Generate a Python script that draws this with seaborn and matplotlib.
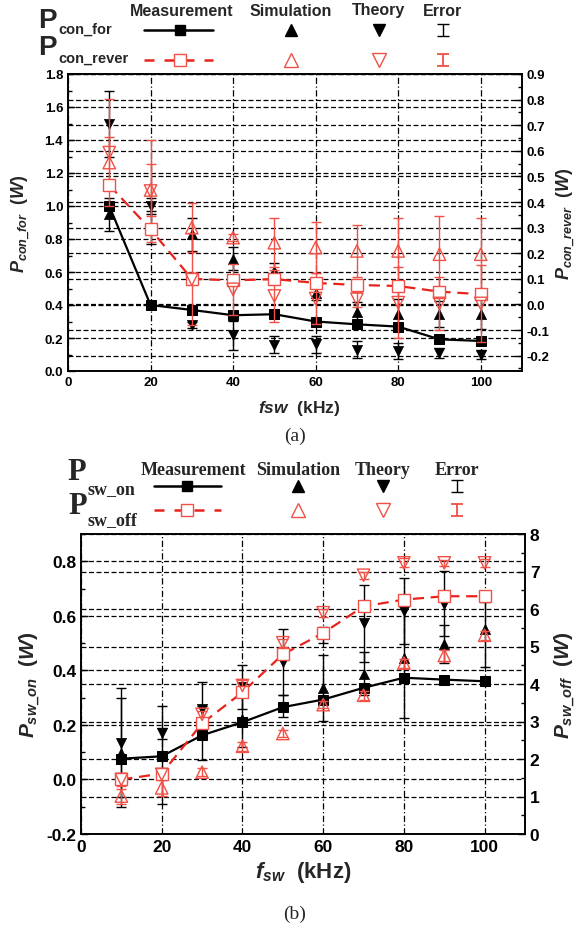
import numpy as np
import pandas as pd
import matplotlib
matplotlib.use("Agg")
import matplotlib.pyplot as plt
import seaborn as sns
from matplotlib.ticker import MultipleLocator, FormatStrFormatter

# ---------------- data ----------------
freq = [10, 20, 30, 40, 50, 60, 70, 80, 90, 100]

# panel (a) conduction loss, forward (left axis)
a_meas_for = [1.00, 0.40, 0.37, 0.338, 0.344, 0.30, 0.283, 0.269, 0.192, 0.182]
a_sim_for = [0.95, 0.87, 0.83, 0.68, 0.607, 0.47, 0.357, 0.345, 0.345, 0.345]
a_theo_for = [1.50, 1.00, 0.28, 0.216, 0.16, 0.162, 0.13, 0.12, 0.107, 0.10]
a_sim_for_err = [0.10, 0.10, 0.10, 0.07, 0.05, 0.04, 0.06, 0.09, 0.08, 0.09]
a_theo_for_err = [0.20, 0.05, 0.02, 0.09, 0.05, 0.05, 0.05, 0.05, 0.03, 0.03]
# panel (a) conduction loss, reverse (right axis)
a_meas_rev = [0.466, 0.293, 0.10, 0.094, 0.099, 0.084, 0.076, 0.072, 0.05, 0.04]
a_sim_rev = [0.554, 0.447, 0.30, 0.261, 0.241, 0.222, 0.209, 0.209, 0.196, 0.196]
a_theo_rev = [0.593, 0.443, 0.098, 0.059, 0.033, 0.023, 0.02, 0.007, 0.004, 0.004]
a_sim_rev_err = [0.10, 0.10, 0.095, 0.015, 0.095, 0.10, 0.10, 0.13, 0.15, 0.14]
a_theo_rev_err = [0.21, 0.20, 0.18, 0.10, 0.10, 0.10, 0.03, 0.14, 0.104, 0.15]

# panel (b) switching loss, turn-on (left axis)
b_meas_on = [0.076, 0.085, 0.162, 0.21, 0.265, 0.293, 0.336, 0.373, 0.366, 0.36]
b_sim_on = [0.098, 0.09, 0.17, 0.22, 0.27, 0.335, 0.388, 0.444, 0.497, 0.552]
b_theo_on = [0.134, 0.169, 0.259, 0.34, 0.43, 0.53, 0.572, 0.617, 0.645, 0.67]
b_sim_on_err = [0.20, 0.18, 0.10, 0.10, 0.04, 0.12, 0.08, 0.22, 0.07, 0.14]
b_theo_on_err = [0.20, 0.02, 0.10, 0.08, 0.12, 0.03, 0.14, 0.12, 0.12, 0.02]
# panel (b) switching loss, turn-off (right axis)
b_meas_off = [1.455, 1.61, 2.95, 3.78, 4.79, 5.36, 6.07, 6.25, 6.34, 6.34]
b_sim_off = [1.01, 1.23, 1.65, 2.34, 2.68, 3.45, 3.70, 4.56, 4.76, 5.30]
b_theo_off = [1.455, 1.59, 3.19, 3.96, 5.10, 5.90, 6.90, 7.23, 7.23, 7.23]
b_sim_off_err = [0.20, 0.22, 0.10, 0.12, 0.10, 0.10, 0.12, 0.12, 0.15, 0.12]
b_theo_off_err = [0.18, 0.05, 0.10, 0.15, 0.10, 0.10, 0.10, 0.12, 0.08, 0.10]

col_headers = ["Measurement", "Simulation", "Theory", "Error"]

# ---------------- style ----------------
sns.set_style("white")
plt.rcParams['font.family'] = ['Liberation Sans', 'DejaVu Sans']
plt.rcParams['font.weight'] = 'bold'
plt.rcParams['mathtext.fontset'] = 'custom'
plt.rcParams['mathtext.it'] = 'Liberation Sans:italic:bold'
plt.rcParams['mathtext.rm'] = 'Liberation Sans:bold'
plt.rcParams['mathtext.bf'] = 'Liberation Sans:bold'

RED = '#e8231c'
RED_L = '#f05046'

fig = plt.figure(figsize=(5.78, 9.28), dpi=100)
W, H = 578.0, 928.0


def px_axes(l, t, r, b):
    return fig.add_axes([l / W, 1 - b / H, (r - l) / W, (b - t) / H])


def draw_panel(ax, x, meas_l, sim_l, theo_l, sim_l_err, theo_l_err,
               meas_r, sim_r, theo_r, sim_r_err, theo_r_err, ms):
    ax2 = ax.twinx()
    # black series (left axis)
    ax.errorbar(x, sim_l, yerr=sim_l_err, fmt='none', ecolor='k',
                elinewidth=1.0, capsize=3.6, capthick=1.0, zorder=3)
    ax.errorbar(x, theo_l, yerr=theo_l_err, fmt='none', ecolor='k',
                elinewidth=1.0, capsize=3.6, capthick=1.0, zorder=3)
    sns.lineplot(x=x, y=meas_l, ax=ax, color='k', lw=1.6, marker='s',
                 markersize=ms, markeredgecolor='k', markerfacecolor='k',
                 legend=False, zorder=4)
    sns.scatterplot(x=x, y=sim_l, ax=ax, marker='^', color='k', s=ms ** 2 * 1.1,
                    edgecolor='k', linewidth=0.5, legend=False, zorder=4)
    sns.scatterplot(x=x, y=theo_l, ax=ax, marker='v', color='k', s=ms ** 2 * 1.1,
                    edgecolor='k', linewidth=0.5, legend=False, zorder=4)
    # red series (right axis)
    ax2.errorbar(x, sim_r, yerr=sim_r_err, fmt='none', ecolor=RED_L,
                 elinewidth=1.0, capsize=3.6, capthick=1.0, zorder=3)
    ax2.errorbar(x, theo_r, yerr=theo_r_err, fmt='none', ecolor=RED_L,
                 elinewidth=1.0, capsize=3.6, capthick=1.0, zorder=3)
    sns.lineplot(x=x, y=meas_r, ax=ax2, color=RED, lw=1.6, marker='s',
                 markersize=ms + 1, markeredgecolor=RED_L, markerfacecolor='white',
                 markeredgewidth=1.0, legend=False, zorder=4)
    ax2.lines[-1].set_dashes([5, 3])
    for mk, vals in (('^', sim_r), ('v', theo_r)):
        sns.scatterplot(x=x, y=vals, ax=ax2, marker=mk, color=RED_L,
                        s=(ms + 1.5) ** 2 * 1.1, legend=False, zorder=4)
        coll = ax2.collections[-1]
        coll.set_facecolor('none')
        coll.set_edgecolor(RED_L)
        coll.set_linewidth(1.0)
    ax.set_xlim(0, 110)
    ax.xaxis.set_major_locator(MultipleLocator(20))
    ax.xaxis.set_minor_locator(MultipleLocator(10))
    gkw = dict(color='k', lw=0.9)
    ax.grid(axis='x', which='major', linestyle=(0, (5, 2, 1, 2)), **gkw)
    ax.grid(axis='y', which='major', linestyle=(0, (4, 2)), **gkw)
    ax2.grid(axis='y', which='major', linestyle=(0, (4, 2)), **gkw)
    ax.set_axisbelow(True)
    for a in (ax, ax2):
        for s in a.spines.values():
            s.set_linewidth(1.2)
            s.set_color('k')
    ax.tick_params(which='both', direction='in', top=False, right=False,
                   colors='k', width=1.0)
    ax.tick_params(which='major', length=5)
    ax.tick_params(which='minor', length=3)
    ax2.tick_params(which='both', direction='in', colors='k', width=1.0)
    ax2.tick_params(which='major', length=5)
    ax2.tick_params(which='minor', length=3)
    ax.set_xlabel('')
    ax.set_ylabel('')
    ax2.set_ylabel('')
    return ax2


# ---------------- panel (a) ----------------
axA = px_axes(68, 75, 522, 372)
axA2 = draw_panel(axA, freq, a_meas_for, a_sim_for, a_theo_for, a_sim_for_err, a_theo_for_err,
                  a_meas_rev, a_sim_rev, a_theo_rev, a_sim_rev_err, a_theo_rev_err, ms=7)
axA.set_ylim(0, 1.8)
axA.yaxis.set_major_locator(MultipleLocator(0.2))
axA.yaxis.set_minor_locator(MultipleLocator(0.1))
axA.yaxis.set_major_formatter(FormatStrFormatter('%.1f'))
axA2.set_ylim(-0.26, 0.9)
axA2.yaxis.set_major_locator(MultipleLocator(0.1))
axA2.yaxis.set_minor_locator(MultipleLocator(0.05))
axA2.yaxis.set_major_formatter(FormatStrFormatter('%.1f'))
axA.tick_params(labelsize=9.5)
axA2.tick_params(labelsize=9.5)
axA.set_xlabel(r'$fsw$  (kHz)', fontsize=12.5, fontweight='bold')
axA.xaxis.set_label_coords(0.509, -0.09)
axA.set_ylabel(r'$P_{con\_for}$  $(W)$', fontsize=13)
axA.yaxis.set_label_coords(-0.078, 0.5)
axA2.set_ylabel(r'$P_{con\_rever}$  $(W)$', fontsize=13)
axA2.yaxis.set_label_coords(1.072, 0.5)

# ---------------- panel (b) ----------------
axB = px_axes(81, 535, 525, 835)
axB2 = draw_panel(axB, freq, b_meas_on, b_sim_on, b_theo_on, b_sim_on_err, b_theo_on_err,
                  b_meas_off, b_sim_off, b_theo_off, b_sim_off_err, b_theo_off_err, ms=7)
axB.set_ylim(-0.2, 0.9)
axB.set_yticks([-0.2, 0.0, 0.2, 0.4, 0.6, 0.8])
axB.yaxis.set_minor_locator(MultipleLocator(0.1))
axB.yaxis.set_major_formatter(FormatStrFormatter('%.1f'))
axB2.set_ylim(0, 8)
axB2.yaxis.set_major_locator(MultipleLocator(1))
axB2.yaxis.set_minor_locator(MultipleLocator(0.5))
axB.tick_params(labelsize=12.5)
axB2.tick_params(labelsize=12.5)
axB.set_xlabel(r'$f_{sw}$  (kHz)', fontsize=16, fontweight='bold')
axB.xaxis.set_label_coords(0.5, -0.085)
axB.set_ylabel(r'$P_{sw\_on}$  $(W)$', fontsize=15)
axB.yaxis.set_label_coords(-0.088, 0.5)
axB2.set_ylabel(r'$P_{sw\_off}$  $(W)$', fontsize=15)
axB2.yaxis.set_label_coords(1.062, 0.5)

# ---------------- legends & captions (overlay in pixel coords) ----------------
ov = fig.add_axes([0, 0, 1, 1])
ov.set_xlim(0, W)
ov.set_ylim(H, 0)
ov.axis('off')
ov.patch.set_alpha(0)


def legend_block(y_head, y1, y2, p1, p2, sub1, sub2, sub_x, cols, line_x, sq_x,
                 fam, head_fs, p_fs, sub_fs):
    for txt, cx in zip(col_headers, cols):
        ov.text(cx, y_head, txt, ha='center', va='center', fontsize=head_fs,
                fontweight='bold', family=fam)
    ov.text(p1[0], p1[1], 'P', ha='center', va='center', fontsize=p_fs,
            fontweight='bold', family=fam)
    ov.text(p2[0], p2[1], 'P', ha='center', va='center', fontsize=p_fs,
            fontweight='bold', family=fam)
    ov.text(sub_x, sub1, sub1_txt[0], ha='left', va='center', fontsize=sub_fs,
            fontweight='bold', family=fam)
    ov.text(sub_x, sub2, sub1_txt[1], ha='left', va='center', fontsize=sub_fs,
            fontweight='bold', family=fam)
    # row 1 (black)
    ov.plot(line_x, [y1, y1], color='k', lw=1.8)
    ov.plot([sq_x], [y1], marker='s', color='k', ms=7)
    ov.plot([cols[1]], [y1], marker='^', color='k', ms=9, ls='none')
    ov.plot([cols[2]], [y1], marker='v', color='k', ms=9, ls='none')
    ov.errorbar([cols[3]], [y1], yerr=[6], fmt='none', ecolor='k', elinewidth=1,
                capsize=4.5, capthick=1)
    # row 2 (red)
    ln, = ov.plot(line_x, [y2, y2], color=RED, lw=1.8)
    ln.set_dashes([4, 4])
    ov.plot([sq_x], [y2], marker='s', mfc='white', mec=RED_L, ms=8, mew=1)
    ov.plot([cols[1]], [y2], marker='^', mfc='none', mec=RED_L, ms=10, mew=1, ls='none')
    ov.plot([cols[2]], [y2], marker='v', mfc='none', mec=RED_L, ms=10, mew=1, ls='none')
    ov.errorbar([cols[3]], [y2], yerr=[6], fmt='none', ecolor=RED_L, elinewidth=1.3,
                capsize=4.5, capthick=1.3)


sub1_txt = ['con_for', 'con_rever']
legend_block(11, 31, 61, (47, 21), (47, 48), 30, 59, 58,
             [182, 291, 379, 443], [144, 213], 180,
             ['Liberation Sans'], 11.5, 20, 10.5)
sub1_txt = ['sw_on', 'sw_off']
legend_block(471, 487, 511, (77, 473), (78, 507), 490, 521, 87,
             [193, 298, 383, 457], [154, 221], 187,
             ['Liberation Serif'], 13, 22, 13)

ov.text(295, 436, '(a)', ha='center', va='center', fontsize=14,
        fontweight='normal', family=['Liberation Serif'])
ov.text(295, 914, '(b)', ha='center', va='center', fontsize=14,
        fontweight='normal', family=['Liberation Serif'])

fig.savefig('out.png', dpi=100)
